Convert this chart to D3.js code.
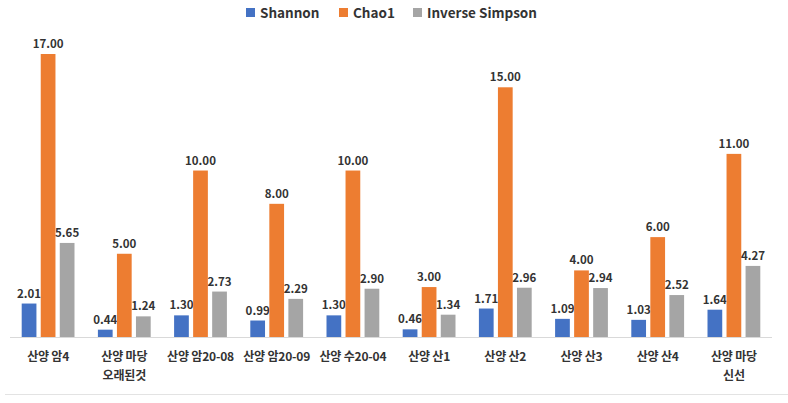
<!DOCTYPE html>
<html><head><meta charset="utf-8">
<script src="https://cdn.jsdelivr.net/npm/d3@7"></script>
<style>body{margin:0;background:#fff}svg{display:block}</style>
</head><body>
<svg id="c" width="788" height="403"></svg>
<script>
const categories = [["산양 암4"],["산양 마당","오래된것"],["산양 암20-08"],["산양 암20-09"],["산양 수20-04"],["산양 산1"],["산양 산2"],["산양 산3"],["산양 산4"],["산양 마당","신선"]];
const seriesNames = ["Shannon","Chao1","Inverse Simpson"];
const shannon = [2.01,0.44,1.30,0.99,1.30,0.46,1.71,1.09,1.03,1.64];
const chao1 = [17,5,10,8,10,3,15,4,6,11];
const invSimpson = [5.65,1.24,2.73,2.29,2.90,1.34,2.96,2.94,2.52,4.27];
const colors = ["#4472C4","#ED7D31","#A5A5A5"];
const seriesValues = [shannon, chao1, invSimpson];

const svg = d3.select("#c");
const font = "'Noto Sans CJK KR', 'Noto Sans', sans-serif";
const baseY = 337;
const idx = categories.map((d,i)=>i);
const x0 = d3.scaleBand().domain(idx).range([10,772]);
const x1 = d3.scaleBand().domain(seriesNames).range([-26.4,26.4]).paddingInner(0.226);
const y = d3.scaleLinear().domain([0,17]).range([baseY,54]);

// chart bottom border
svg.append("line").attr("x1",5).attr("x2",788).attr("y1",394.5).attr("y2",394.5).attr("stroke","#e3e3e3").attr("stroke-width",1);

// bars
seriesNames.forEach((s,si)=>{
  const vals = seriesValues[si];
  const g = svg.append("g");
  g.selectAll("rect").data(vals).join("rect")
    .attr("x",(d,i)=>x0(i)+x0.bandwidth()/2+x1(s))
    .attr("width",x1.bandwidth())
    .attr("y",d=>y(d))
    .attr("height",d=>baseY-y(d))
    .attr("fill",colors[si]);
  g.selectAll("text").data(vals).join("text")
    .attr("x",(d,i)=>x0(i)+x0.bandwidth()/2+x1(s)+x1.bandwidth()/2)
    .attr("y",d=>y(d)-6)
    .attr("text-anchor","middle")
    .attr("font-family",font).attr("font-weight","bold").attr("font-size",11.5)
    .attr("fill","#333")
    .text(d=>d.toFixed(2));
});

// baseline axis
svg.append("line").attr("x1",x0.range()[0]).attr("x2",x0.range()[1]).attr("y1",baseY+0.5).attr("y2",baseY+0.5).attr("stroke","#d9d9d9");

// category labels
const cl = svg.append("g");
categories.forEach((lines,i)=>{
  lines.forEach((t,li)=>{
    cl.append("text")
      .attr("x",x0(i)+x0.bandwidth()/2)
      .attr("y",361+li*19)
      .attr("text-anchor","middle")
      .attr("font-family",font).attr("font-weight","bold").attr("font-size",12)
      .attr("letter-spacing",-0.2)
      .attr("fill","#333")
      .text(t);
  });
});

// legend
const legX = [246,339,413];
const lg = svg.append("g");
seriesNames.forEach((s,i)=>{
  lg.append("rect").attr("x",legX[i]).attr("y",8).attr("width",9).attr("height",9).attr("fill",colors[i]);
  lg.append("text").attr("x",legX[i]+14).attr("y",17.5)
    .attr("font-family",font).attr("font-weight","bold").attr("font-size",13.5).attr("fill","#333").text(s);
});
</script>
</body></html>
